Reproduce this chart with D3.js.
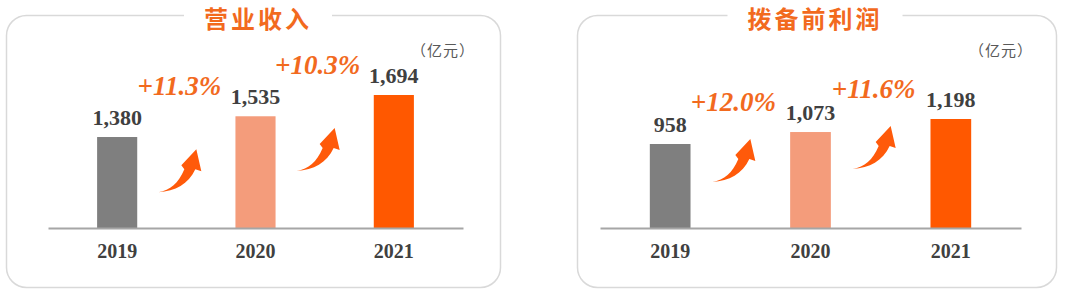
<!DOCTYPE html>
<html>
<head>
  <meta charset="utf-8">
  <title>营业收入 / 拨备前利润</title>
  <script src="https://d3js.org/d3.v7.min.js"></script>
  <style>
    body { margin: 0; background: #fff; }
  </style>
</head>
<body>
  <div id="chart"></div>
  <script>
  const years = ["2019", "2020", "2021"];
  const revenue = [1380, 1535, 1694];
  const revenueGrowth = [11.3, 10.3];
  const ppop = [958, 1073, 1198];
  const ppopGrowth = [12.0, 11.6];
  const titles = ["营业收入", "拨备前利润"];
  const unitLabel = "（亿元）";

  const barColors = ["#7f7f7f", "#f49c7b", "#ff5800"];
  const orange = "#f26a1e";
  const textGray = "#404040";

  const svg = d3.select("#chart")
    .append("svg")
    .attr("width", 1080)
    .attr("height", 293);

  // layout for each panel
  const panels = [
    { title: titles[0], values: revenue, growth: revenueGrowth,
      box: [6, 500], titleX: 258, axis: [48, 463], yMin: 700, yTop: 95, arrowDy: 97 },
    { title: titles[1], values: ppop, growth: ppopGrowth,
      box: [577, 1056], titleX: 815, axis: [600, 1021], yMin: 152, yTop: 119, arrowDy: 71 }
  ];

  const baseY = 228;
  const fmt = d3.format(",");
  const pct = d => "+" + d3.format(".1f")(d) + "%";

  panels.forEach(p => {
    const g = svg.append("g");

    // rounded frame
    g.append("rect")
      .attr("x", p.box[0] + 0.5)
      .attr("y", 15.5)
      .attr("width", p.box[1] - p.box[0])
      .attr("height", 272)
      .attr("rx", 20)
      .attr("fill", "none")
      .attr("stroke", "#d9d9d9")
      .attr("stroke-width", 1.5);

    // white gap in the frame line behind the title
    const gap = g.append("rect")
      .attr("y", 5)
      .attr("height", 22)
      .attr("fill", "#fff");

    const title = g.append("text")
      .attr("x", p.titleX)
      .attr("y", 27.5)
      .attr("text-anchor", "middle")
      .attr("font-family", "'Noto Sans CJK SC', sans-serif")
      .attr("font-weight", 700)
      .attr("font-size", 24)
      .attr("letter-spacing", 3)
      .attr("fill", orange)
      .text(p.title);
    const tb = title.node().getBBox();
    gap.attr("x", tb.x - 20).attr("width", tb.width + 40);

    const x = d3.scaleBand()
      .domain(years)
      .range(p.axis)
      .paddingInner(0.71)
      .paddingOuter(0.355);

    const y = d3.scaleLinear()
      .domain([p.yMin, d3.max(p.values)])
      .range([baseY, p.yTop]);

    g.selectAll(".bar")
      .data(p.values)
      .enter()
      .append("rect")
      .attr("class", "bar")
      .attr("x", (d, i) => x(years[i]))
      .attr("y", d => y(d))
      .attr("width", x.bandwidth())
      .attr("height", d => baseY - y(d))
      .attr("fill", (d, i) => barColors[i]);

    g.selectAll(".val")
      .data(p.values)
      .enter()
      .append("text")
      .attr("class", "val")
      .attr("x", (d, i) => x(years[i]) + x.bandwidth() / 2)
      .attr("y", d => y(d) - 12)
      .attr("text-anchor", "middle")
      .attr("font-family", "'Liberation Serif', 'Times New Roman', serif")
      .attr("font-weight", 700)
      .attr("font-size", 22)
      .attr("fill", textGray)
      .text(d => fmt(d));

    const axis = g.append("g")
      .attr("transform", `translate(0,${baseY})`)
      .call(d3.axisBottom(x).tickSize(0).tickPadding(16));
    axis.select(".domain")
      .attr("stroke", "#a6a6a6")
      .attr("stroke-width", 1.8);
    axis.selectAll("text")
      .attr("font-family", "'Liberation Serif', 'Times New Roman', serif")
      .attr("font-weight", 700)
      .attr("font-size", 20)
      .attr("fill", textGray);

    g.append("text")
      .attr("x", p.axis[1] + 12)
      .attr("y", 56)
      .attr("text-anchor", "end")
      .attr("font-family", "'Noto Sans CJK SC', sans-serif")
      .attr("font-size", 15)
      .attr("letter-spacing", 1)
      .attr("fill", "#595959")
      .text(unitLabel);

    // growth labels and arrows between neighbouring bars
    const mids = p.growth.map((d, i) =>
      (x(years[i]) + x(years[i + 1]) + x.bandwidth()) / 2 - 7);
    const labelY = p.growth.map((d, i) => y(p.values[i + 1]) - 21);

    g.selectAll(".pct")
      .data(p.growth)
      .enter()
      .append("text")
      .attr("class", "pct")
      .attr("x", (d, i) => mids[i])
      .attr("y", (d, i) => labelY[i])
      .attr("text-anchor", "middle")
      .attr("font-family", "'Liberation Serif', 'Times New Roman', serif")
      .attr("font-style", "italic")
      .attr("font-weight", 700)
      .attr("font-size", 27)
      .attr("fill", orange)
      .text(d => pct(d));

    const arrowPath = "M0,0 C12,-2 20,-9 26,-23 L23,-27 L38,-43 L43,-21 L37,-23 C30,-8 17,-1 0,0 Z";
    g.selectAll(".arrow")
      .data(p.growth)
      .enter()
      .append("path")
      .attr("class", "arrow")
      .attr("d", arrowPath)
      .attr("transform", (d, i) => `translate(${mids[i] - 21},${labelY[i] + p.arrowDy})`)
      .attr("fill", "#ff5a0a");
  });
  </script>
</body>
</html>
